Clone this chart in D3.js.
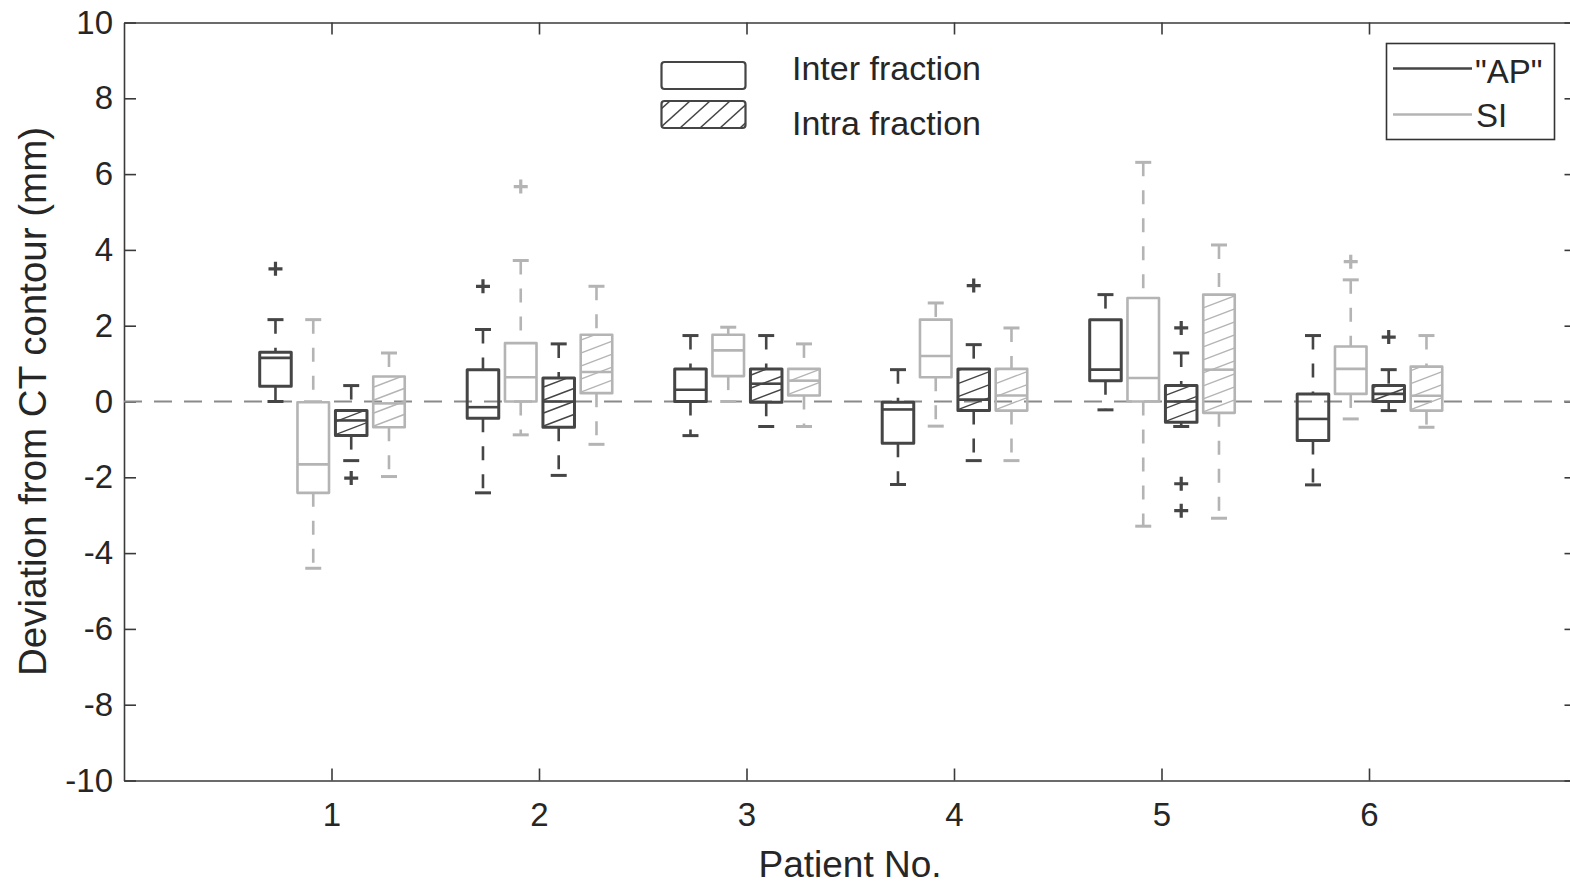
<!DOCTYPE html>
<html>
<head>
<meta charset="utf-8">
<script src="https://cdn.jsdelivr.net/npm/d3@7"></script>
<style>
  html, body { margin: 0; padding: 0; background: #fff; }
  svg { display: block; font-family: "Liberation Sans", Arial, sans-serif; }
</style>
</head>
<body>
<svg id="chart" width="1570" height="886"></svg>
<script>
// ---------------- data ----------------
const patients = [1, 2, 3, 4, 5, 6];
const yTicks = [-10, -8, -6, -4, -2, 0, 2, 4, 6, 8, 10];

// "AP" inter fraction
const apInterLow  = [0.00, -2.41, -0.90, -2.19, -0.22, -2.20];
const apInterQ1   = [0.40, -0.44,  0.00, -1.10,  0.55, -1.03];
const apInterMed  = [1.15, -0.15,  0.31, -0.21,  0.84, -0.46];
const apInterQ3   = [1.30,  0.84,  0.86, -0.02,  2.16,  0.20];
const apInterHigh = [2.16,  1.90,  1.74,  0.84,  2.82,  1.74];
const apInterOut  = [[3.50], [3.04], [], [], [], []];

// SI inter fraction
const siInterLow  = [-4.40, -0.88, 0.00, -0.65, -3.29, -0.46];
const siInterQ1   = [-2.41,  0.00, 0.67,  0.64,  0.00,  0.20];
const siInterMed  = [-1.66,  0.64, 1.35,  1.20,  0.62,  0.86];
const siInterQ3   = [-0.02,  1.54, 1.76,  2.16,  2.73,  1.45];
const siInterHigh = [ 2.16,  3.72, 1.96,  2.60,  6.31,  3.21];
const siInterOut  = [[], [5.67], [], [], [], [3.69]];

// "AP" intra fraction
const apIntraLow  = [-1.56, -1.95, -0.66, -1.56, -0.66, -0.24];
const apIntraQ1   = [-0.90, -0.68, -0.02, -0.24, -0.55,  0.00];
const apIntraMed  = [-0.50,  0.00,  0.47,  0.05,  0.00,  0.20];
const apIntraQ3   = [-0.24,  0.62,  0.86,  0.86,  0.42,  0.42];
const apIntraHigh = [ 0.42,  1.52,  1.74,  1.50,  1.28,  0.84];
const apIntraOut  = [[-2.02], [], [], [3.06], [1.94, -2.17, -2.88], [1.70]];

// SI intra fraction
const siIntraLow  = [-1.98, -1.13, -0.66, -1.56, -3.08, -0.68];
const siIntraQ1   = [-0.68,  0.22,  0.16, -0.24, -0.30, -0.24];
const siIntraMed  = [-0.05,  0.78,  0.55,  0.16,  0.84,  0.15];
const siIntraQ3   = [ 0.66,  1.76,  0.86,  0.86,  2.82,  0.92];
const siIntraHigh = [ 1.28,  3.04,  1.52,  1.94,  4.13,  1.74];
const siIntraOut  = [[], [], [], [], [], []];

// ---------------- styling / layout ----------------
const DARK = "#454545", LIGHT = "#b4b4b4", TXT = "#262626", AX = "#3a3a3a";
const groups = [
  {low: apInterLow, q1: apInterQ1, med: apInterMed, q3: apInterQ3, high: apInterHigh, out: apInterOut, color: DARK,  hatch: false, off: -0.270, sw: 3},
  {low: siInterLow, q1: siInterQ1, med: siInterMed, q3: siInterQ3, high: siInterHigh, out: siInterOut, color: LIGHT, hatch: false, off: -0.088, sw: 2.6},
  {low: apIntraLow, q1: apIntraQ1, med: apIntraMed, q3: apIntraQ3, high: apIntraHigh, out: apIntraOut, color: DARK,  hatch: true,  off:  0.095, sw: 3},
  {low: siIntraLow, q1: siIntraQ1, med: siIntraMed, q3: siIntraQ3, high: siIntraHigh, out: siIntraOut, color: LIGHT, hatch: true,  off:  0.277, sw: 2.6}
];
const boxW = 0.152;   // in x data units

const svg = d3.select("#chart");
const x = d3.scaleLinear().domain([0, 7]).range([124, 124 + 7 * 207.5]);
const y = d3.scaleLinear().domain([-10, 10]).range([780.5, 22.5]);
const defs = svg.append("defs");

// ---------------- axes ----------------
const fmt = d => String(d);
const gB = svg.append("g").attr("transform", `translate(0,${y(-10)})`)
  .call(d3.axisBottom(x).tickValues(patients).tickSizeInner(-12).tickSizeOuter(0).tickPadding(22).tickFormat(fmt));
const gT = svg.append("g").attr("transform", `translate(0,${y(10)})`)
  .call(d3.axisTop(x).tickValues(patients).tickSizeInner(-12).tickSizeOuter(0).tickFormat(""));
const gL = svg.append("g").attr("transform", `translate(${x(0)},0)`)
  .call(d3.axisLeft(y).tickValues(yTicks).tickSizeInner(-12).tickSizeOuter(0).tickPadding(11).tickFormat(fmt));
const gR = svg.append("g").attr("transform", `translate(${x(7)},0)`)
  .call(d3.axisRight(y).tickValues(yTicks).tickSizeInner(-12).tickSizeOuter(0).tickFormat(""));
[gB, gT, gL, gR].forEach(g => {
  g.selectAll("path.domain").attr("stroke", AX).attr("stroke-width", 1.6);
  g.selectAll(".tick line").attr("stroke", AX).attr("stroke-width", 1.6);
  g.selectAll(".tick text").attr("fill", TXT).style("font-size", "33px");
});

// axis labels
svg.append("text").attr("x", 850).attr("y", 877).attr("text-anchor", "middle")
  .attr("fill", TXT).style("font-size", "37px").text("Patient No.");
svg.append("text").attr("transform", `translate(46,${y(0)}) rotate(-90)`).attr("text-anchor", "middle")
  .attr("fill", TXT).style("font-size", "38.5px").text("Deviation from CT contour (mm)");

// zero reference line
svg.append("line").attr("x1", x(0)).attr("x2", x(7)).attr("y1", y(0)).attr("y2", y(0))
  .attr("stroke", "#8a8a8a").attr("stroke-width", 2.2).attr("stroke-dasharray", "18,12");

// ---------------- boxes ----------------
const plot = svg.append("g");
let clipId = 0;
function plus(g, cx, cy, color) {
  const s = 7;
  g.append("path").attr("d", `M${cx - s},${cy}H${cx + s}M${cx},${cy - s}V${cy + s}`)
    .attr("stroke", color).attr("stroke-width", 3.2).attr("fill", "none");
}
groups.forEach(gr => {
  patients.forEach((p, i) => {
    const g = plot.append("g");
    const cx = x(p + gr.off);
    const hw = (x(boxW) - x(0)) / 2;
    const capW = 8;
    // whiskers (drawn top to bottom)
    g.append("line").attr("x1", cx).attr("x2", cx).attr("y1", y(gr.high[i])).attr("y2", y(gr.q3[i]))
      .attr("stroke", gr.color).attr("stroke-width", 2.6).attr("stroke-dasharray", "14,14");
    g.append("line").attr("x1", cx).attr("x2", cx).attr("y1", y(gr.q1[i])).attr("y2", y(gr.low[i]))
      .attr("stroke", gr.color).attr("stroke-width", 2.6).attr("stroke-dasharray", "14,14");
    // caps
    [gr.high[i], gr.low[i]].forEach(v => {
      g.append("line").attr("x1", cx - capW).attr("x2", cx + capW).attr("y1", y(v)).attr("y2", y(v))
        .attr("stroke", gr.color).attr("stroke-width", 3);
    });
    const yt = y(gr.q3[i]), yb = y(gr.q1[i]);
    // hatch
    if (gr.hatch) {
      const id = "clip" + (clipId++);
      defs.append("clipPath").attr("id", id).append("rect")
        .attr("x", cx - hw).attr("y", yt).attr("width", 2 * hw).attr("height", yb - yt);
      const hg = g.append("g").attr("clip-path", `url(#${id})`);
      const sp = 13, rise = 12;
      for (let yy = yb + rise; yy > yt - sp; yy -= sp) {
        hg.append("line").attr("x1", cx - hw).attr("y1", yy).attr("x2", cx + hw).attr("y2", yy - rise)
          .attr("stroke", gr.color).attr("stroke-width", 1.4);
      }
    }
    // box
    g.append("rect").attr("x", cx - hw).attr("y", yt).attr("width", 2 * hw).attr("height", yb - yt)
      .attr("fill", "none").attr("stroke", gr.color).attr("stroke-width", gr.sw).attr("stroke-linejoin", "round");
    // median
    g.append("line").attr("x1", cx - hw).attr("x2", cx + hw).attr("y1", y(gr.med[i])).attr("y2", y(gr.med[i]))
      .attr("stroke", gr.color).attr("stroke-width", 2.6);
    // outliers
    gr.out[i].forEach(v => plus(g, cx, y(v), gr.color));
  });
});

// ---------------- legends ----------------
const lg = svg.append("g");
lg.append("rect").attr("x", 661.5).attr("y", 62).attr("width", 84).attr("height", 27).attr("rx", 3)
  .attr("fill", "#fff").attr("stroke", DARK).attr("stroke-width", 2.2);
defs.append("clipPath").attr("id", "legclip").append("rect")
  .attr("x", 661.5).attr("y", 101).attr("width", 84).attr("height", 27);
const lh = lg.append("g").attr("clip-path", "url(#legclip)");
for (let xx = 640; xx < 760; xx += 20) {
  lh.append("line").attr("x1", xx).attr("y1", 128).attr("x2", xx + 30).attr("y2", 101)
    .attr("stroke", DARK).attr("stroke-width", 1.5);
}
lg.append("rect").attr("x", 661.5).attr("y", 101).attr("width", 84).attr("height", 27).attr("rx", 3)
  .attr("fill", "none").attr("stroke", DARK).attr("stroke-width", 2.2);
lg.append("text").attr("x", 792).attr("y", 80).attr("fill", TXT).style("font-size", "34px").text("Inter fraction");
lg.append("text").attr("x", 792).attr("y", 135).attr("fill", TXT).style("font-size", "34px").text("Intra fraction");

const lg2 = svg.append("g");
lg2.append("rect").attr("x", 1386.5).attr("y", 43.5).attr("width", 168).attr("height", 96)
  .attr("fill", "#fff").attr("stroke", "#333").attr("stroke-width", 1.6);
lg2.append("line").attr("x1", 1393).attr("x2", 1472).attr("y1", 68.5).attr("y2", 68.5)
  .attr("stroke", DARK).attr("stroke-width", 2.6);
lg2.append("line").attr("x1", 1393).attr("x2", 1472).attr("y1", 114.5).attr("y2", 114.5)
  .attr("stroke", LIGHT).attr("stroke-width", 2.6);
lg2.append("text").attr("x", 1475).attr("y", 83).attr("fill", TXT).style("font-size", "33px").text("\"AP\"");
lg2.append("text").attr("x", 1476).attr("y", 127).attr("fill", TXT).style("font-size", "33px").text("SI");
</script>
</body>
</html>
